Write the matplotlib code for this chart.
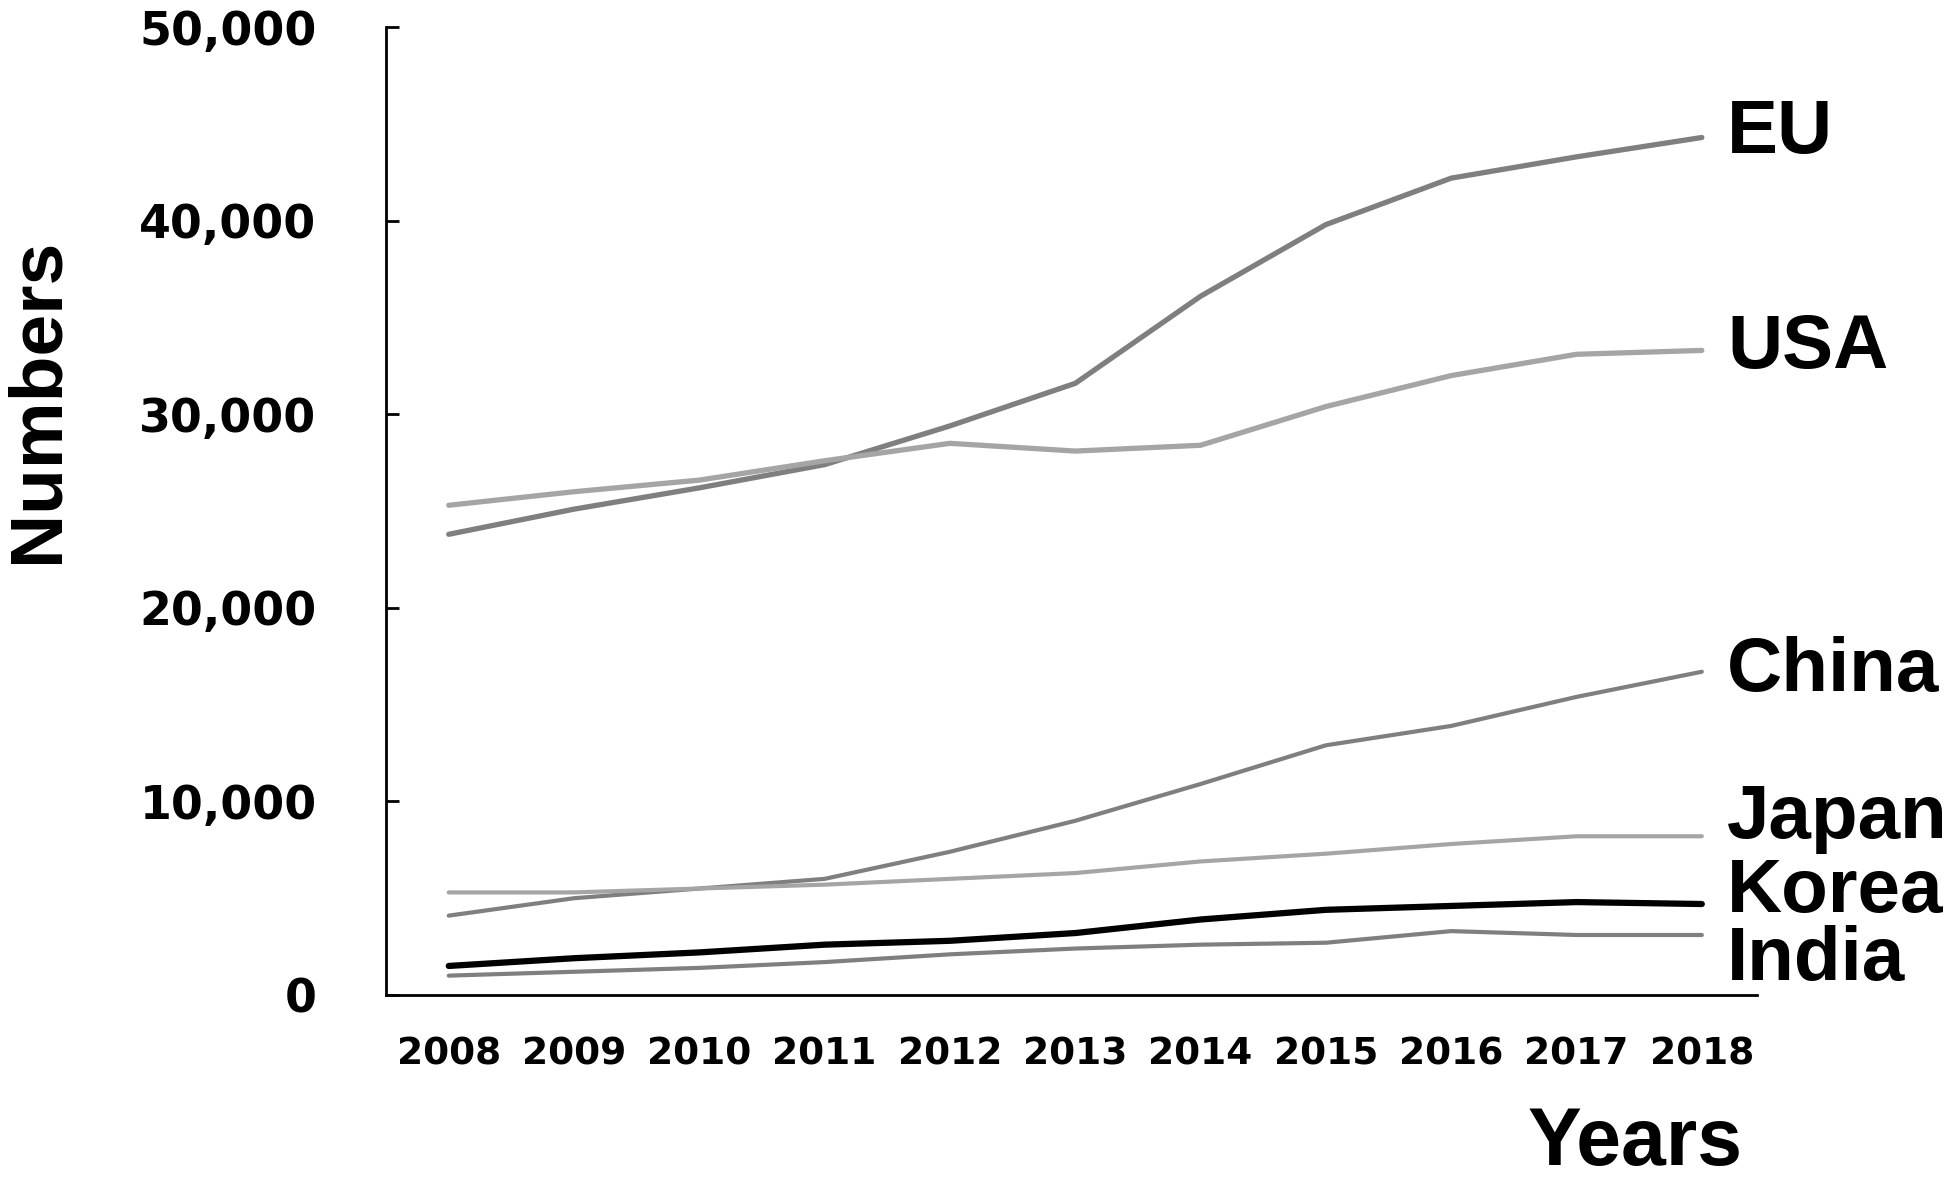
import matplotlib
matplotlib.use("Agg")
import matplotlib.pyplot as plt
from matplotlib.font_manager import fontManager
from matplotlib.ticker import FuncFormatter

# ── Datos ────────────────────────────────────────────────
years = [2008, 2009, 2010, 2011, 2012, 2013, 2014, 2015, 2016, 2017, 2018]

eu    = [23800, 25100, 26200, 27400, 29400, 31600, 36100, 39800, 42200, 43300, 44300]
usa   = [25300, 26000, 26600, 27600, 28500, 28100, 28400, 30400, 32000, 33100, 33300]
china = [4100, 5000, 5500, 6000, 7400, 9000, 10900, 12900, 13900, 15400, 16700]
japan = [5300, 5300, 5500, 5700, 6000, 6300, 6900, 7300, 7800, 8200, 8200]
korea = [1500, 1900, 2200, 2600, 2800, 3200, 3900, 4400, 4600, 4800, 4700]
india = [1000, 1200, 1400, 1700, 2100, 2400, 2600, 2700, 3300, 3100, 3100]

series = [
    ("EU", eu, "#7f7f7f", 3.8, 44500),
    ("USA", usa, "#a5a5a5", 3.8, 33400),
    ("China", china, "#7f7f7f", 3.0, 16700),
    ("Japan", japan, "#a5a5a5", 3.0, 9100),
    ("Korea", korea, "#000000", 4.5, 5300),
    ("India", india, "#7f7f7f", 3.0, 1800),
]

# fuente condensada para etiquetas si existe
nombres = {f.name for f in fontManager.ttflist}
narrow = "Liberation Sans Narrow" if "Liberation Sans Narrow" in nombres else "Liberation Sans"

fig = plt.figure(figsize=(19.5, 11.81), dpi=100)
ax = fig.add_axes([0.198, 0.1575, 0.703, 0.8195])

for nombre, vals, color, lw, ylab in series:
    ax.plot(years, vals, color=color, linewidth=lw, solid_capstyle="round")
    ax.text(2018.2, ylab, nombre, ha="left", va="center",
            fontsize=55, fontweight="bold", family=narrow, clip_on=False)

ax.set_xlim(2007.5, 2018.44)
ax.set_ylim(0, 50000)
ax.set_xticks(years)
ax.set_yticks(range(0, 50001, 10000))
ax.yaxis.set_major_formatter(FuncFormatter(lambda v, p: f"{int(v):,}"))

for s in ["top", "right"]:
    ax.spines[s].set_visible(False)
for s in ["left", "bottom"]:
    ax.spines[s].set_linewidth(2)

ax.tick_params(axis="y", direction="in", length=9, width=2, pad=50)
ax.tick_params(axis="x", length=0, pad=30)
for lbl in ax.get_yticklabels():
    lbl.set_fontsize(33)
    lbl.set_fontweight("bold")
    lbl.set_family("DejaVu Sans")
for lbl in ax.get_xticklabels():
    lbl.set_fontsize(27)
    lbl.set_fontweight("bold")
    lbl.set_family("DejaVu Sans")

fig.text(0.0195, 0.661, "Numbers", rotation=90, ha="center", va="center",
         fontsize=54, fontweight="bold", family=narrow)
fig.text(0.8385, 0.031, "Years", ha="center", va="center",
         fontsize=58, fontweight="bold", family=narrow)

fig.savefig("out.png", dpi=100)
